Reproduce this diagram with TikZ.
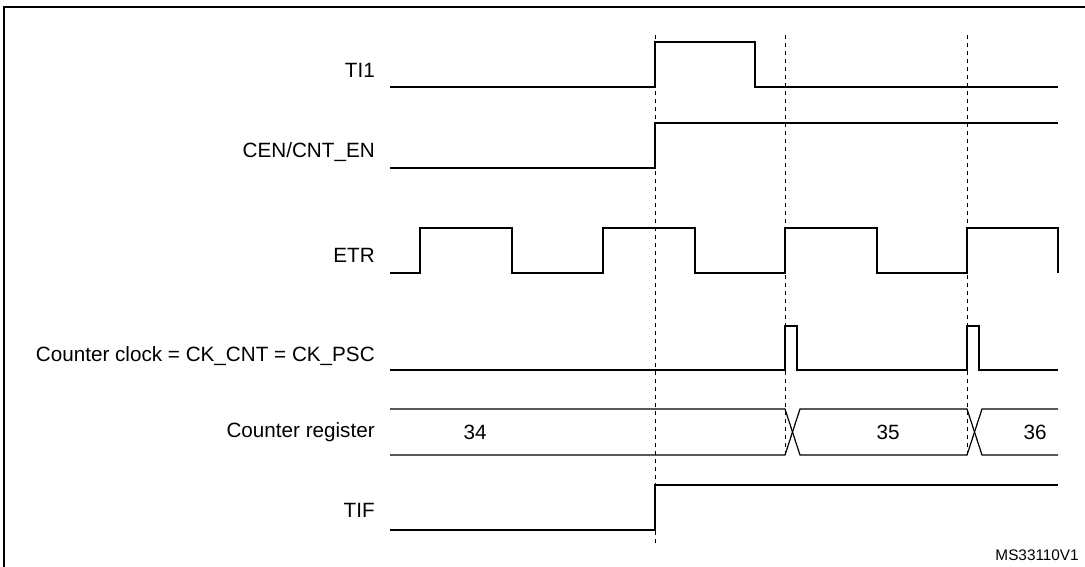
\documentclass[tikz,border=0pt]{standalone}
\usepackage{fontspec}
\setmainfont{Liberation Sans}
\begin{document}
\begin{tikzpicture}[x=0.75pt,y=-0.75pt,
  sig/.style={line width=0.9pt},
  guide/.style={dashed,line width=0.6pt},
  lbl/.style={anchor=east,font=\fontsize{15.5}{17}\selectfont,inner sep=0pt},
  val/.style={font=\fontsize{15.5}{17}\selectfont,inner sep=0pt}]
\useasboundingbox (0,0) rectangle (1085,567);
\draw[line width=1.2pt] (4,600) -- (4,7) -- (1100,7);
% labels
\node[lbl] (l1) at (375,70) {TI1};
\node[lbl] (l2) at (375,152) {CEN/CNT\_EN};
\node[lbl] (l3) at (375,255) {ETR};
\node[lbl] (l4) at (375,356) {Counter clock = CK\_CNT = CK\_PSC};
\node[lbl] (l5) at (375,432) {Counter register};
\node[lbl] (l6) at (375,510) {TIF};
\node[anchor=east,inner sep=0pt,font=\fontsize{11.5}{13}\selectfont] (ms) at (1079,555) {MS33110V1};
% guides
\draw[guide] (655,35) -- (655,545);
\draw[guide] (785,35) -- (785,455);
\draw[guide] (967,35) -- (967,455);
% TI1
\draw[sig] (390,87) -- (655,87) -- (655,42) -- (755,42) -- (755,87) -- (1058,87);
% CEN
\draw[sig] (390,168) -- (655,168) -- (655,123) -- (1058,123);
% ETR
\draw[sig] (390,273) -- (420,273) -- (420,228) -- (512,228) -- (512,273) -- (603,273) -- (603,228)
  -- (695,228) -- (695,273) -- (785,273) -- (785,228) -- (877,228) -- (877,273) -- (967,273)
  -- (967,228) -- (1058,228) -- (1058,273);
% counter clock
\draw[sig] (390,370) -- (785,370) -- (785,326) -- (797,326) -- (797,370) -- (967,370) -- (967,326)
  -- (979,326) -- (979,370) -- (1058,370);
% counter register
\draw[sig] (390,409) -- (785,409) -- (800,455) -- (967,455) -- (982,409) -- (1058,409);
\draw[sig] (390,455) -- (785,455) -- (800,409) -- (967,409) -- (982,455) -- (1058,455);
\node[val] (v34) at (475,432) {34};
\node[val] (v35) at (888,432) {35};
\node[val] (v36) at (1035,432) {36};
% TIF
\draw[sig] (390,530) -- (655,530) -- (655,485) -- (1058,485);
\end{tikzpicture}
\end{document}
